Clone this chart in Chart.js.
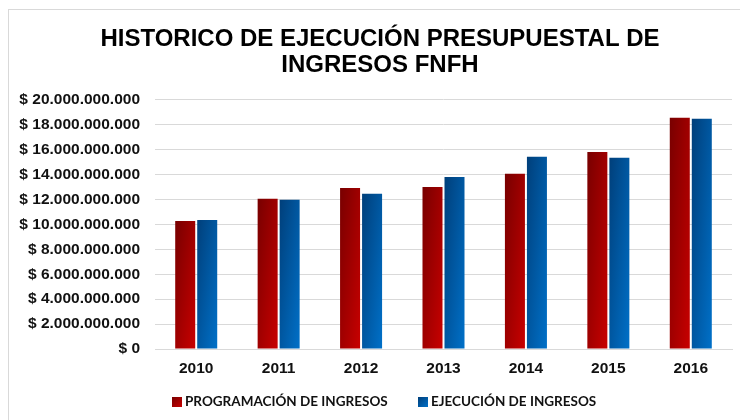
<!DOCTYPE html>
<html>
<head>
<meta charset="utf-8">
<script src="https://cdn.jsdelivr.net/npm/chart.js@4/dist/chart.umd.min.js"></script>
<style>
  html, body { margin: 0; padding: 0; background: #fff; }
  #wrap { position: relative; width: 740px; height: 420px; overflow: hidden; }
  #frame { position: absolute; left: 8px; top: 9px; width: 800px; height: 500px; border: 1px solid #d9d9d9; box-sizing: border-box; }
  #c { position: absolute; left: 0; top: 0; }
  .leg { position: absolute; top: 394px; font: bold 13.5px Lato, "Liberation Sans", sans-serif; color: #111; line-height: 15px; white-space: nowrap; }
  .leg i { display: inline-block; width: 10px; height: 10px; margin-right: 3px; vertical-align: -1px; }
</style>
</head>
<body>
<div id="wrap">
  <div id="frame"></div>
  <canvas id="c" width="740" height="420"></canvas>
  <div class="leg" id="leg1" style="left:172px"><i style="background:linear-gradient(135deg,#780000,#c80000)"></i>PROGRAMACIÓN DE INGRESOS</div>
  <div class="leg" id="leg2" style="left:418px"><i style="background:linear-gradient(135deg,#003f7a,#0070c8)"></i>EJECUCIÓN DE INGRESOS</div>
</div>
<script>
const categories = ['2010', '2011', '2012', '2013', '2014', '2015', '2016'];
const programacion = [10280000000, 12050000000, 12930000000, 13000000000, 14060000000, 15820000000, 18550000000];
const ejecucion = [10360000000, 11970000000, 12450000000, 13800000000, 15420000000, 15340000000, 18470000000];
const seriesNames = ['PROGRAMACIÓN DE INGRESOS', 'EJECUCIÓN DE INGRESOS'];
const yTickLabels = ['$ 0', '$ 2.000.000.000', '$ 4.000.000.000', '$ 6.000.000.000', '$ 8.000.000.000',
  '$ 10.000.000.000', '$ 12.000.000.000', '$ 14.000.000.000', '$ 16.000.000.000', '$ 18.000.000.000', '$ 20.000.000.000'];
const titleLines = ['HISTORICO DE EJECUCIÓN PRESUPUESTAL DE', 'INGRESOS FNFH'];

const gradStops = [
  ['#780000', '#c80000'],
  ['#003f7a', '#0070c8']
];

const gradientPlugin = {
  id: 'barGradient',
  afterLayout(chart) {
    const t = chart.titleBlock;
    if (t) { t.left += 7; t.right += 7; }
  },
  beforeDatasetsDraw(chart) {
    const ctx = chart.ctx;
    chart.data.datasets.forEach((ds, di) => {
      const meta = chart.getDatasetMeta(di);
      meta.data.forEach(el => {
        const p = el.getProps(['x', 'y', 'base', 'width'], true);
        const w = p.width, h = Math.max(1, p.base - p.y);
        const x0 = p.x - w / 2, y0 = p.y;
        const k = 2 / (1 / (w * w) + 1 / (h * h));
        const g = ctx.createLinearGradient(x0, y0, x0 + k / w, y0 + k / h);
        g.addColorStop(0, gradStops[di][0]);
        g.addColorStop(1, gradStops[di][1]);
        el.options = Object.assign({}, el.options, { backgroundColor: g });
      });
    });
  }
};

const gridColor = '#d9d9d9';
const labelFont = { family: '"Liberation Sans", Arial, sans-serif', size: 15.5, weight: 'bold' };

new Chart(document.getElementById('c'), {
  type: 'bar',
  data: {
    labels: categories,
    datasets: [
      { label: seriesNames[0], data: programacion, backgroundColor: '#a80000', borderWidth: 0 },
      { label: seriesNames[1], data: ejecucion, backgroundColor: '#0058a8', borderWidth: 0 }
    ]
  },
  options: {
    responsive: false,
    animation: false,
    devicePixelRatio: 1,
    layout: { padding: { left: 14, right: 8, top: 0, bottom: 37 } },
    datasets: { bar: { categoryPercentage: 0.534, barPercentage: 0.909 } },
    plugins: {
      legend: { display: false },
      tooltip: { enabled: false },
      title: {
        display: true,
        text: titleLines,
        color: '#000',
        font: { family: '"Liberation Sans", Arial, sans-serif', size: 24, weight: 'bold', lineHeight: 1.1 },
        padding: { top: 26, bottom: 21 }
      }
    },
    scales: {
      x: {
        grid: { display: false, drawTicks: false },
        border: { display: true, color: gridColor, width: 1 },
        ticks: { color: '#111', font: labelFont, padding: 10 },
        afterFit(s) { s.height = 34; }
      },
      y: {
        min: 0,
        max: 20000000000,
        grid: { color: gridColor, lineWidth: 1, drawTicks: false },
        border: { display: false },
        ticks: {
          stepSize: 2000000000,
          color: '#111',
          font: labelFont,
          padding: 15,
          callback: (v, i) => yTickLabels[i]
        },
        afterFit(s) { s.width = 141; }
      }
    }
  },
  plugins: [gradientPlugin]
});
</script>
</body>
</html>
